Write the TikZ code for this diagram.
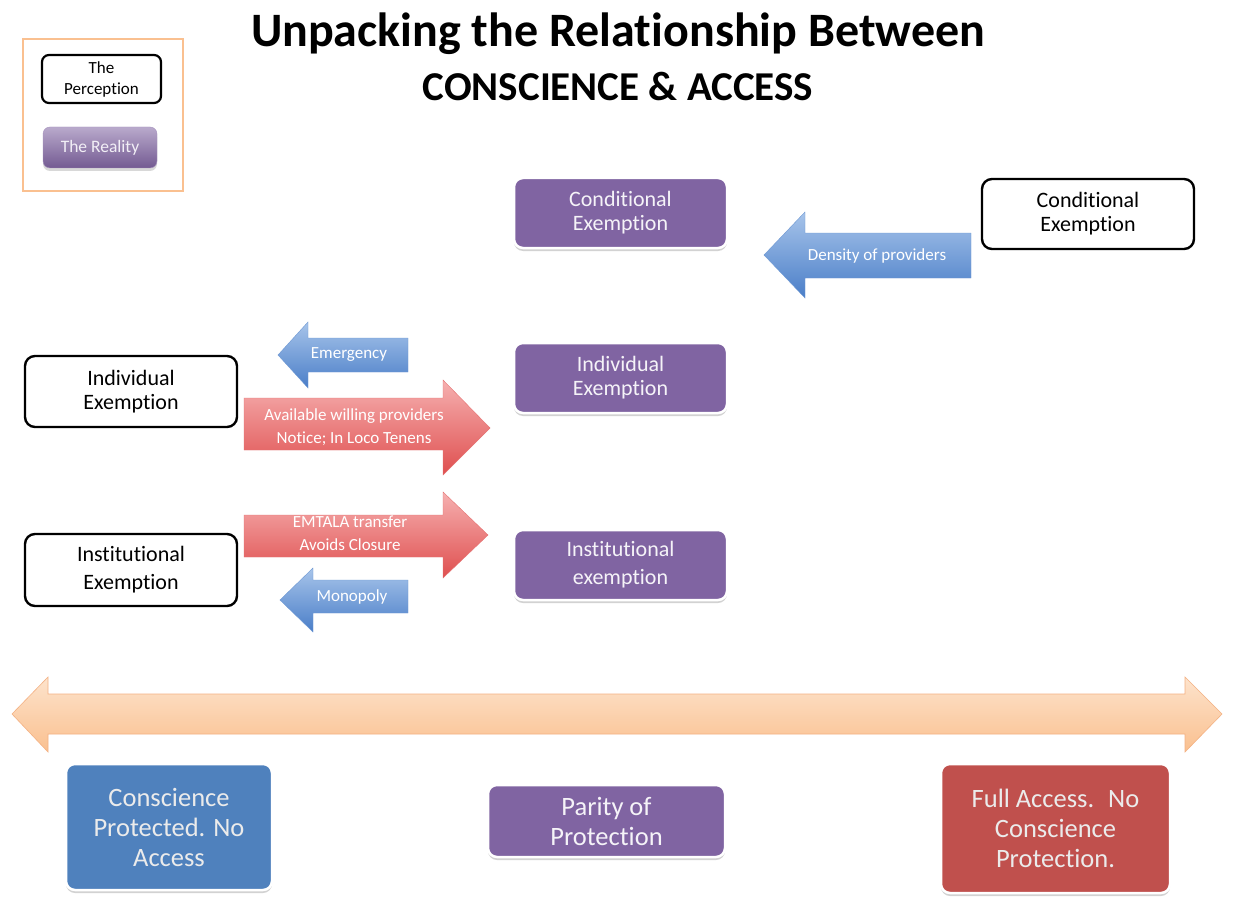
\documentclass[tikz,border=0pt]{standalone}
\usepackage{fontspec}
\setmainfont{Carlito}[Ligatures=NoCommon]
\usetikzlibrary{shadows}
\definecolor{purp}{HTML}{8064A2}
\definecolor{bluebox}{HTML}{4F81BD}
\definecolor{redbox}{HTML}{C0504D}
\definecolor{legendor}{HTML}{FAC090}
\definecolor{orlight}{HTML}{FDE3CC}
\definecolor{ordark}{HTML}{FAC08F}
\definecolor{orline}{HTML}{F4B183}
\definecolor{bluetop}{HTML}{A7C4EA}
\definecolor{bluebot}{HTML}{4A7EC8}
\definecolor{redtop}{HTML}{F6B0B0}
\definecolor{redbot}{HTML}{DF4F4F}
\begin{document}
\begin{tikzpicture}[x=1pt,y=-1pt,
  reality/.style={rounded corners=9pt, fill=purp, draw=white, line width=2.5pt,
     text=white!92!purp, align=center, font=\fontsize{22}{24}\selectfont,
     drop shadow={shadow xshift=0pt,shadow yshift=-3pt,opacity=0.35}},
  perception/.style={rounded corners=10pt, fill=white, draw=black, line width=2.4pt,
     align=center, font=\fontsize{22}{24}\selectfont},
  endbox/.style={rounded corners=9pt, draw=white, line width=2.5pt, text=white!92!black,
     align=center, font=\fontsize{26.5}{30}\selectfont,
     drop shadow={shadow xshift=0pt,shadow yshift=-3pt,opacity=0.35}},
  bluearrow/.style={top color=bluetop, bottom color=bluebot, draw=bluebot!80!white, line width=0.4pt},
  redarrow/.style={top color=redtop, bottom color=redbot, draw=redbot!80!white, line width=0.4pt},
  arrowtext/.style={text=white, align=center, font=\fontsize{17}{23}\selectfont},
]
\useasboundingbox (0,0) rectangle (1233,896);
\fill[white] (0,0) rectangle (1233,896);

% title
\node[font=\fontsize{48}{50}\bfseries] (title1) at (618,34) {Unpacking the Relationship Between};
\node[font=\fontsize{41}{44}\bfseries] (title2) at (618,86) {CONSCIENCE \& ACCESS};

% legend
\node[draw=legendor, line width=2.5pt, minimum width=160pt, minimum height=152pt] (legend) at (103,115) {};
\node[rounded corners=7pt, draw=black, line width=2.2pt, fill=white, align=center,
      minimum width=119pt, minimum height=48pt, font=\fontsize{17}{21}\selectfont] (lperc) at (101.5,79) {The\\Perception};
\node[rounded corners=7pt, top color=purp!55!white, bottom color=purp!90!black, draw=purp!70!white,
      text=white!90!purp, minimum width=114pt, minimum height=41pt, font=\fontsize{17.5}{20}\selectfont,
      drop shadow={shadow xshift=0pt,shadow yshift=-3pt,opacity=0.3}] (lreal) at (100,147.5) {The Reality};

% reality boxes
\node[reality, minimum width=213pt, minimum height=70pt] (rcond) at (620.5,213) {Conditional\\Exemption};
\node[reality, minimum width=213pt, minimum height=70pt] (rind) at (620.5,378) {Individual\\Exemption};
\node[reality, minimum width=213pt, minimum height=70pt, font=\fontsize{22}{28}\selectfont] (rinst) at (620.5,565) {Institutional\\exemption};

% perception boxes
\node[perception, minimum width=212pt, minimum height=70pt] (pcond) at (1088,214) {Conditional\\Exemption};
\node[perception, minimum width=212pt, minimum height=71pt] (pind) at (131,391.5) {Individual\\Exemption};
\node[perception, minimum width=212pt, minimum height=72pt, font=\fontsize{22}{28}\selectfont] (pinst) at (131,570) {Institutional\\Exemption};

% Density of providers arrow
\path[bluearrow] (971,233) -- (805,233) -- (805,212) -- (764,255) -- (805,298) -- (805,278) -- (971,278) -- cycle;
\node[arrowtext] (tdens) at (877,256) {Density of providers};

% Emergency
\path[bluearrow] (408,338) -- (308,338) -- (308,322) -- (278,355) -- (308,388) -- (308,372) -- (408,372) -- cycle;
\node[arrowtext] (temerg) at (349,355) {Emergency};

% Available willing providers
\path[redarrow] (244,398) -- (443,398) -- (443,380) -- (490,428) -- (443,475) -- (443,450) -- (244,450) -- cycle;
\node[arrowtext] (tavail) at (354,427.5) {Available willing providers\\Notice; In Loco Tenens};

% EMTALA
\path[redarrow] (244,515) -- (443,515) -- (443,492) -- (488,535) -- (443,578) -- (443,557) -- (244,557) -- cycle;
\node[arrowtext] (temtala) at (350,533) {EMTALA transfer\\Avoids Closure};

% Monopoly
\path[bluearrow] (408,580) -- (313,580) -- (313,568) -- (280,600) -- (313,632) -- (313,613) -- (408,613) -- cycle;
\node[arrowtext] (tmono) at (352,597) {Monopoly};

% big double arrow
\path[top color=orlight, bottom color=ordark, draw=orline, line width=0.6pt]
  (12,714) -- (48,677) -- (48,694) -- (1185,694) -- (1185,677) -- (1222,714)
  -- (1185,752) -- (1185,734) -- (48,734) -- (48,752) -- cycle;

% end boxes
\node[endbox, fill=bluebox, minimum width=206pt, minimum height=126pt] (bcons) at (169,827) {Conscience\\Protected. No\\Access};
\node[reality, font=\fontsize{26.5}{30}\selectfont, minimum width=237pt, minimum height=72pt] (bpar) at (606.5,821) {Parity of\\Protection};
\node[endbox, fill=redbox, minimum width=229pt, minimum height=129pt] (bfull) at (1055.5,828.5) {Full Access.~ No\\Conscience\\Protection.};
\end{tikzpicture}
\end{document}
